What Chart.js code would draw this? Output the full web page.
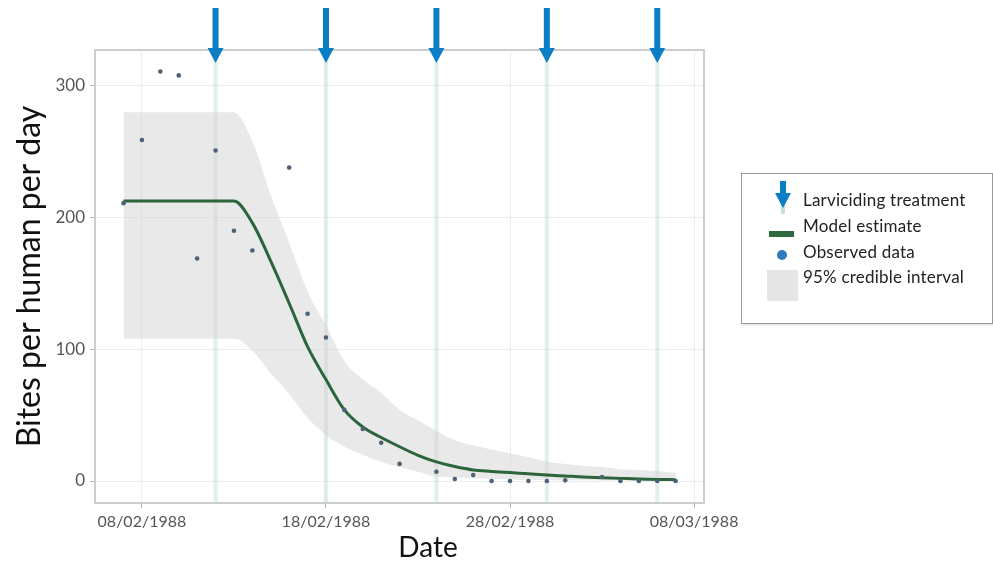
<!DOCTYPE html>
<html>
<head>
<meta charset="utf-8">
<script src="https://cdn.jsdelivr.net/npm/chart.js@4.4.1/dist/chart.umd.min.js"></script>
<style>
  html, body { margin: 0; padding: 0; background: #fff; }
  #wrap { position: relative; width: 993px; height: 562px; }
  #legend {
    position: absolute; left: 741px; top: 173px; width: 250px; height: 149px;
    border: 1px solid #9a9a9a; box-shadow: 1px 1px 2px rgba(0,0,0,0.15);
    font-family: Lato, "Open Sans", sans-serif; font-size: 17px; letter-spacing: 0.2px; color: #222; background: #fff;
  }
  #legend .txt { position: absolute; left: 61px; line-height: 18px; white-space: nowrap; }
  #legend .ico { position: absolute; }
</style>
</head>
<body>
<div id="wrap">
  <canvas id="bitesChart" width="993" height="562"></canvas>
  <div id="legend">
    <svg class="ico" style="left:30px;top:6px" width="22" height="34">
      <rect x="9" y="22" width="4" height="12" fill="#bfe0dd"/>
      <rect x="8" y="1" width="6" height="13" fill="#0b7fc6"/>
      <polygon points="3,13 19,13 11,28" fill="#0b7fc6"/>
    </svg>
    <span class="txt" style="top:17px">Larviciding treatment</span>
    <svg class="ico" style="left:27px;top:55px" width="26" height="10">
      <rect x="0" y="2" width="25" height="6" fill="#2f6a3e"/>
    </svg>
    <span class="txt" style="top:43px">Model estimate</span>
    <svg class="ico" style="left:33px;top:74px" width="14" height="14">
      <circle cx="7" cy="7" r="5" fill="#2f7bbd"/>
    </svg>
    <span class="txt" style="top:69px">Observed data</span>
    <svg class="ico" style="left:25px;top:96px" width="32" height="32">
      <rect x="0" y="0" width="31" height="31" fill="#e6e6e6"/>
    </svg>
    <span class="txt" style="top:94px">95% credible interval</span>
  </div>
</div>
<script>
// days counted from 08/02/1988
const days = [-1, 0, 1, 2, 3, 4, 5, 6, 7, 8, 9, 10, 11, 12, 13, 14, 15, 16, 17, 18, 19, 20, 21, 22, 23, 24, 25, 26, 27, 28, 29];
const observed = [211, 259, 311, 308, 169, 251, 190, 175, null, 238, 127, 109, 54, 39.5, 29, 13, null, 7, 1.5, 4.5, 0, 0, 0, 0, 0.5, null, 3, 0, 0, 0, 0];
const modelEstimate = [212.6, 212.6, 212.6, 212.6, 212.6, 212.6, 212.6, 196, 167, 135, 102, 77, 54, 41, 33, 26, 19.5, 14.5, 11, 8.4, 7.3, 6.4, 5.5, 4.6, 3.8, 3, 2.5, 2, 1.5, 1.2, 1];
const upperCI = [280, 280, 280, 280, 280, 280, 280, 258, 217, 181, 144, 118, 91, 77, 67, 54, 46, 38, 31, 27, 24, 21, 18, 14.6, 13, 11.4, 10.6, 9, 8.4, 7.6, 6];
const lowerCI = [108, 108, 108, 108, 108, 108, 108, 99, 82, 66, 48, 35, 26, 20, 14.5, 10.6, 7, 3.5, 2.5, 2, 1.5, 1.2, 1, 0.8, 0.6, 0.5, 0.4, 0.3, 0.2, 0.2, 0.1];
const treatmentDays = [4, 10, 16, 22, 28];
const xTickValues = [0, 10, 20, 30];
const xTickLabels = ["08/02/1988", "18/02/1988", "28/02/1988", "08/03/1988"];
const yTickValues = [0, 100, 200, 300];

const toPoints = (vals) => days.map((d, i) => ({ x: d, y: vals[i] }));

const FONT = 'Lato, "Open Sans", sans-serif';

// light vertical lines at each treatment + box round the plot
const treatmentLines = {
  id: "treatmentLines",
  beforeDatasetsDraw(chart) {
    const { ctx, chartArea, scales } = chart;
    ctx.save();
    ctx.strokeStyle = "rgba(175, 212, 208, 0.38)";
    ctx.lineWidth = 4;
    treatmentDays.forEach((d) => {
      const x = scales.x.getPixelForValue(d);
      ctx.beginPath();
      ctx.moveTo(x, chartArea.top);
      ctx.lineTo(x, chartArea.bottom);
      ctx.stroke();
    });
    ctx.strokeStyle = "#cdcdcd";
    ctx.lineWidth = 2;
    ctx.strokeRect(chartArea.left, chartArea.top, chartArea.right - chartArea.left, chartArea.bottom - chartArea.top);
    ctx.restore();
  },
  afterDraw(chart) {
    const { ctx, chartArea, scales } = chart;
    ctx.save();
    ctx.fillStyle = "#0b7fc6";
    const tip = chartArea.top + 13;
    treatmentDays.forEach((d) => {
      const x = scales.x.getPixelForValue(d);
      ctx.fillRect(x - 3, 8, 6, tip - 22);
      ctx.beginPath();
      ctx.moveTo(x - 8, tip - 15);
      ctx.lineTo(x + 8, tip - 15);
      ctx.lineTo(x, tip);
      ctx.closePath();
      ctx.fill();
    });
    // x axis title
    ctx.fillStyle = "#111";
    ctx.font = "28px " + FONT;
    ctx.textAlign = "center";
    ctx.textBaseline = "middle";
    ctx.fillText("Date", 428, 548);
    ctx.restore();
  },
};

const config = {
  type: "line",
  data: {
    datasets: [
      {
        label: "95% credible interval",
        data: toPoints(upperCI),
        borderWidth: 0,
        pointRadius: 0,
        backgroundColor: "rgba(212, 212, 212, 0.5)",
        fill: "+1",
        order: 3,
        cubicInterpolationMode: "monotone",
      },
      {
        label: "lower",
        data: toPoints(lowerCI),
        borderWidth: 0,
        pointRadius: 0,
        fill: false,
        order: 3,
        cubicInterpolationMode: "monotone",
      },
      {
        label: "Model estimate",
        data: toPoints(modelEstimate),
        borderColor: "#2c653b",
        borderWidth: 3,
        pointRadius: 0,
        fill: false,
        order: 1,
        cubicInterpolationMode: "monotone",
      },
      {
        label: "Observed data",
        data: toPoints(observed),
        showLine: false,
        pointRadius: 2.3,
        pointBackgroundColor: "#4d6276",
        pointBorderWidth: 0,
        fill: false,
        order: 0,
      },
    ],
  },
  options: {
    responsive: false,
    animation: false,
    layout: { padding: { top: 50, right: 289, left: 0, bottom: 0 } },
    plugins: { legend: { display: false }, tooltip: { enabled: false } },
    scales: {
      x: {
        type: "linear",
        min: -2.55,
        max: 30.54,
        afterBuildTicks: (scale) => {
          scale.ticks = xTickValues.map((v) => ({ value: v }));
        },
        afterFit: (scale) => {
          scale.height = 59;
        },
        ticks: {
          autoSkip: false,
          maxRotation: 0,
          padding: 4,
          color: "#555",
          font: { family: FONT, size: 16 },
          callback: (v) => xTickLabels[xTickValues.indexOf(v)],
        },
        grid: { color: "#ededed", tickColor: "#b5b5b5", tickLength: 5, lineWidth: 1 },
        border: { color: "#cdcdcd", width: 2 },
      },
      y: {
        min: -16.7,
        max: 327.3,
        afterBuildTicks: (scale) => {
          scale.ticks = yTickValues.map((v) => ({ value: v }));
        },
        afterFit: (scale) => {
          scale.width = 95;
        },
        ticks: {
          padding: 5,
          color: "#555",
          font: { family: FONT, size: 17 },
        },
        grid: { color: "#ededed", tickColor: "#b5b5b5", tickLength: 5, lineWidth: 1 },
        border: { color: "#cdcdcd", width: 2 },
        title: {
          display: true,
          text: "Bites per human per day",
          color: "#111",
          font: { family: FONT, size: 32, lineHeight: 1.2 },
          padding: { top: 10, bottom: 0 },
        },
      },
    },
  },
  plugins: [treatmentLines],
};

const ctx = document.getElementById("bitesChart");
new Chart(ctx, config);
</script>
</body>
</html>
